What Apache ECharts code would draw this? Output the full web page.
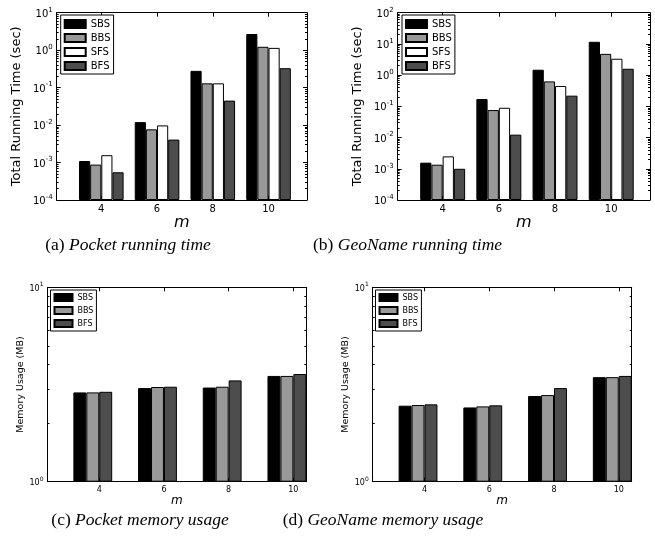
<!DOCTYPE html>
<html><head><meta charset="utf-8">
<script src="https://cdn.jsdelivr.net/npm/echarts@6/dist/echarts.min.js"></script>
<style>html,body{margin:0;padding:0;background:#fff}#c{width:655px;height:542px}</style>
</head><body><div id="c"></div>
<script>
// ---- data ----
const categories = [4, 6, 8, 10];
const xTickLabels = ['4', '6', '8', '10'];
// (a) Pocket running time (sec)
const pocketTimeSBS = [1.1e-3, 1.2e-2, 0.28, 2.7];
const pocketTimeBBS = [8.8e-4, 7.7e-3, 0.13, 1.23];
const pocketTimeSFS = [1.57e-3, 9.8e-3, 0.13, 1.15];
const pocketTimeBFS = [5.5e-4, 4.1e-3, 0.045, 0.33];
// (b) GeoName running time (sec)
const geoTimeSBS = [1.57e-3, 0.171, 1.49, 11.7];
const geoTimeBBS = [1.35e-3, 0.076, 0.63, 4.8];
const geoTimeSFS = [2.5e-3, 0.090, 0.45, 3.35];
const geoTimeBFS = [1.0e-3, 0.0124, 0.22, 1.6];
// (c) Pocket memory usage (MB)
const pocketMemSBS = [2.88, 3.03, 3.05, 3.50];
const pocketMemBBS = [2.88, 3.07, 3.08, 3.50];
const pocketMemBFS = [2.90, 3.08, 3.32, 3.58];
// (d) GeoName memory usage (MB)
const geoMemSBS = [2.46, 2.41, 2.76, 3.45];
const geoMemBBS = [2.48, 2.44, 2.79, 3.45];
const geoMemBFS = [2.50, 2.47, 3.03, 3.50];
const captionLabels = ['(a) ', '(b) ', '(c) ', '(d) '];
const captionTexts = ['Pocket running time', 'GeoName running time', 'Pocket memory usage', 'GeoName memory usage'];
const timeAxisName = 'Total Running Time (sec)';
const memAxisName = 'Memory Usage (MB)';
const xAxisName = 'm';

// ---- styles ----
const colors = { SBS: '#000000', BBS: '#999999', SFS: '#ffffff', BFS: '#4d4d4d' };
const FONT = 'DejaVu Sans';

const panels = [
  { rect: [56.7, 12.7, 250.3, 187.3], xr: [2.4, 11.38], yr: [1e-4, 10],
    series: [['SBS', pocketTimeSBS], ['BBS', pocketTimeBBS], ['SFS', pocketTimeSFS], ['BFS', pocketTimeBFS]],
    big: true, yName: timeAxisName, legend: [60.7, 15] },
  { rect: [397.7, 12.7, 252.3, 187.3], xr: [2.4, 11.38], yr: [1e-4, 100],
    series: [['SBS', geoTimeSBS], ['BBS', geoTimeBBS], ['SFS', geoTimeSFS], ['BFS', geoTimeBFS]],
    big: true, yName: timeAxisName, legend: [402, 15] },
  { rect: [47.5, 287.3, 258.8, 194.4], xr: [2.4, 10.4], yr: [1, 10],
    series: [['SBS', pocketMemSBS], ['BBS', pocketMemBBS], ['BFS', pocketMemBFS]],
    big: false, yName: memAxisName, legend: [50.5, 290] },
  { rect: [372.7, 287.3, 259, 194.4], xr: [2.4, 10.4], yr: [1, 10],
    series: [['SBS', geoMemSBS], ['BBS', geoMemBBS], ['BFS', geoMemBFS]],
    big: false, yName: memAxisName, legend: [375.5, 290] }
];
const captionPos = [[128, 245], [407.5, 245], [140, 520], [383, 520]];

function expLabel(v) {
  const e = Math.round(Math.log10(v));
  return '{b|10}{s|' + e + '}';
}

const option = { animation: false, grid: [], xAxis: [], yAxis: [], series: [], legend: [], graphic: [] };

panels.forEach((p, i) => {
  const [l, t, w, h] = p.rect;
  const tickFs = p.big ? 10 : 8;
  const supFs = p.big ? 7 : 6;
  option.grid.push({ left: l, top: t, width: w, height: h, containLabel: false });
  const lineStyle = { color: '#000', width: 1 };
  const baseX = {
    type: 'value', gridIndex: i, min: p.xr[0], max: p.xr[1],
    axisLine: { show: true, onZero: false, lineStyle },
    splitLine: { show: false }
  };
  option.xAxis.push(Object.assign({}, baseX, {
    position: 'bottom',
    axisTick: { show: true, inside: true, length: 4, customValues: categories, lineStyle },
    axisLabel: { show: true, customValues: categories, margin: 4,
      formatter: (v) => xTickLabels[categories.indexOf(v)] || '',
      fontSize: tickFs, fontFamily: FONT, color: '#000' },
    name: xAxisName, nameLocation: 'middle', nameGap: p.big ? 7 : 6,
    nameTextStyle: { fontSize: p.big ? 16 : 12, fontStyle: 'italic', fontFamily: FONT, color: '#000' }
  }));
  option.xAxis.push(Object.assign({}, baseX, {
    position: 'top',
    axisTick: { show: true, inside: true, length: 4, customValues: categories, lineStyle },
    axisLabel: { show: false }
  }));
  const baseY = {
    type: 'log', logBase: 10, gridIndex: i, min: p.yr[0], max: p.yr[1], startValue: p.yr[0],
    splitNumber: Math.round(Math.log10(p.yr[1] / p.yr[0])),
    axisLine: { show: true, onZero: false, lineStyle },
    splitLine: { show: false },
    axisTick: { show: true, inside: true, length: 4, lineStyle },
    minorTick: { show: true, splitNumber: 9, length: 2, lineStyle }
  };
  option.yAxis.push(Object.assign({}, baseY, {
    position: 'left',
    axisLabel: { show: true, margin: 4, formatter: expLabel, color: '#000',
      rich: { b: { fontSize: tickFs, fontFamily: FONT, color: '#000', padding: [3, 0, 0, 0] },
              s: { fontSize: supFs, fontFamily: FONT, color: '#000', verticalAlign: 'top' } } },
    name: p.yName, nameLocation: 'middle', nameGap: p.big ? 34 : 21,
    nameTextStyle: { fontSize: p.big ? 13 : 9.5, fontFamily: FONT, color: '#000' }
  }));
  option.yAxis.push(Object.assign({}, baseY, { position: 'right', axisLabel: { show: false } }));

  const pxPerUnit = w / (p.xr[1] - p.xr[0]);
  const bw = 0.4 * pxPerUnit;
  const names = p.series.map(s => s[0]);
  p.series.forEach(([name, vals]) => {
    option.series.push({
      type: 'bar', name, xAxisIndex: 2 * i, yAxisIndex: 2 * i,
      barWidth: bw, barGap: '0%',
      itemStyle: { color: colors[name], borderColor: '#000', borderWidth: 1 },
      data: categories.map((c, k) => [c, vals[k]])
    });
  });
  if (p.series.length === 3) {
    // empty fourth slot, as in the original layout
    option.series.push({ type: 'bar', name: '_pad' + i, xAxisIndex: 2 * i, yAxisIndex: 2 * i,
      barWidth: bw, barGap: '0%', data: [] });
  }
  option.legend.push({
    data: names, orient: 'vertical', left: p.legend[0], top: p.legend[1],
    icon: 'rect', itemWidth: p.big ? 21 : 18, itemHeight: p.big ? 8 : 7,
    itemGap: p.big ? 4 : 4, padding: p.big ? [4, 3, 3, 3] : [3, 3, 3, 3],
    borderColor: '#000', borderWidth: 1, backgroundColor: '#fff', borderRadius: 0,
    textStyle: { fontSize: p.big ? 10 : 8, fontFamily: FONT, color: '#000' },
    selectedMode: false
  });
  option.graphic.push({
    type: 'text', x: captionPos[i][0], y: captionPos[i][1],
    style: {
      text: '{n|' + captionLabels[i] + '}{it|' + captionTexts[i] + '}',
      align: 'center', verticalAlign: 'middle',
      rich: {
        n: { fontSize: 17.5, fontFamily: 'Liberation Serif', fill: '#000' },
        it: { fontSize: 17.5, fontFamily: 'Liberation Serif', fontStyle: 'italic', fill: '#000' }
      }
    }
  });
});

const chart = echarts.init(document.getElementById('c'), null, { renderer: 'canvas' });
chart.setOption(option);
</script>
</body></html>
